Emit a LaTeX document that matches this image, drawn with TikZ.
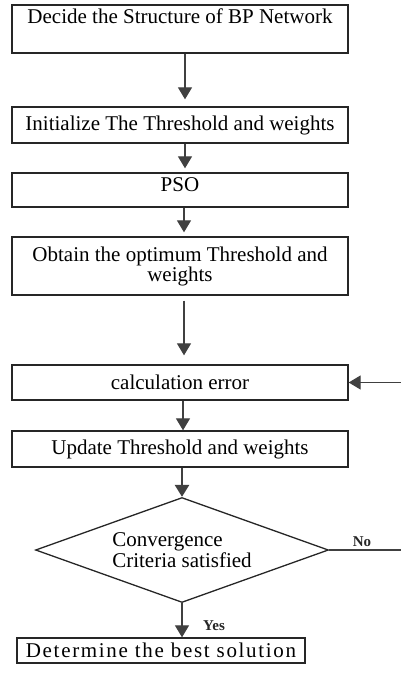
\documentclass[tikz,border=0pt]{standalone}
\usepackage{fontspec}
\setmainfont{Liberation Serif}
\usetikzlibrary{shapes.geometric,arrows.meta}

\begin{document}
\begin{tikzpicture}[x=1pt,y=-1pt,
        box/.style={draw=black!85,line width=1.3pt,minimum width=336pt,inner sep=2pt,
            align=center,font=\fontsize{21}{20}\selectfont},
        topbox/.style={box,text height=16pt},
        flow/.style={draw=black!75,line width=1.2pt,-{Triangle[length=12pt,width=14pt]}},
        tag/.style={font=\fontsize{15}{15}\selectfont\bfseries,text=black!85}]

    \useasboundingbox (0,0) rectangle (401,675);

    % 流程方框
    \node[topbox,text depth=28pt] (struct) at (180,29) {Decide the Structure of BP Network};
    \node[box,minimum height=36pt] (init) at (180,125) {Initialize The Threshold and weights};
    \node[topbox,text depth=14pt] (pso) at (180,190) {PSO};
    \node[box,minimum height=58pt] (optim) at (180,266) {Obtain the optimum Threshold and\\weights};
    \node[box,minimum height=35pt] (calc) at (180,382.5) {calculation error};
    \node[box,minimum height=36pt] (update) at (180,449) {Update Threshold and weights};

    % 判断菱形
    \node[draw=black!85,line width=1.3pt,diamond,aspect=2.8,inner sep=0pt,
        minimum width=293pt,minimum height=105pt,align=left,
        font=\fontsize{21}{21}\selectfont] (conv) at (182,550) {Convergence\\Criteria satisfied};

    % 最优解
    \node[box,minimum width=288pt,minimum height=25pt,
        font=\fontsize{21}{20}\selectfont\addfontfeature{LetterSpace=8}] (best) at (161,650.5) {Determine the best solution};

    % 箭头
    \draw[flow,shorten >=7pt] ([xshift=5pt]struct.south) -- ([xshift=5pt]init.north);
    \draw[flow,shorten >=4pt] ([xshift=5pt]init.south) -- ([xshift=5pt]pso.north);
    \draw[flow,shorten >=4pt] ([xshift=4pt]pso.south) -- ([xshift=4pt]optim.north);
    \draw[flow,shorten <=5pt,shorten >=9pt] ([xshift=4pt]optim.south) -- ([xshift=4pt]calc.north);
    \draw[flow] ([xshift=3pt]calc.south) -- ([xshift=3pt]update.north);
    \draw[flow,line width=2.6pt] (update.south -| conv) -- (conv.north);
    \draw[flow] (conv.south) -- (conv.south |- best.north);

    % 回路
    \coordinate (back) at (401,382.5);
    \coordinate (out) at (401,550);
    \draw[flow] (back) -- (calc.east);
    \draw[draw=black!75,line width=1.2pt] (conv.east) -- (out);

    % 标签
    \node[tag] (no) at (362,542) {No};
    \node[tag] (yes) at (214,626) {Yes};

\end{tikzpicture}
\end{document}
